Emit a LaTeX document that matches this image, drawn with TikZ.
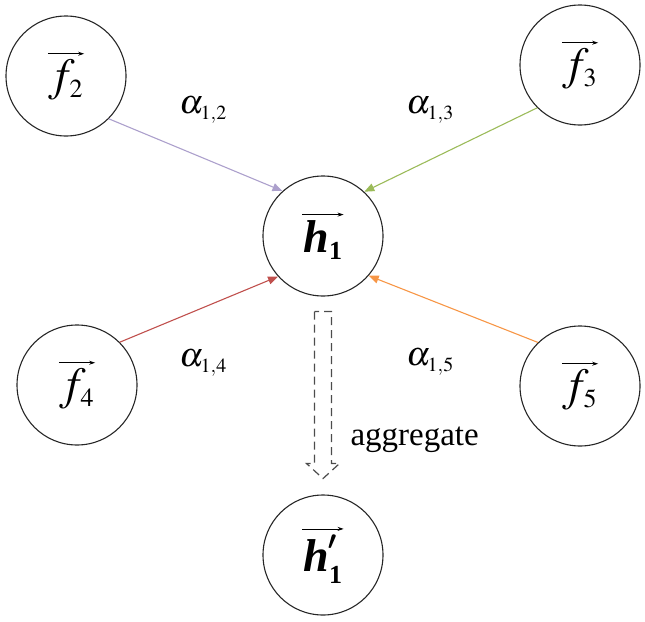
\documentclass[tikz,border=0pt]{standalone}
\usepackage{amsmath}
\usepackage{mathptmx}
\usepackage[no-math]{fontspec}
\setmainfont{Liberation Serif}
\usetikzlibrary{arrows.meta}

\newlength{\du}
\setlength{\du}{1pt}
\DeclareMathSizes{46}{46}{26}{18}
\DeclareMathSizes{34}{34}{20}{14}

\definecolor{edgepurple}{RGB}{172,160,204}
\definecolor{edgegreen}{RGB}{155,187,89}
\definecolor{edgered}{RGB}{192,80,77}
\definecolor{edgeorange}{RGB}{247,150,70}

\tikzset{
  vecnode/.style={circle,draw=black!85,line width=1.1\du,minimum size=120\du,inner sep=0pt,font=\fontsize{46}{50}\selectfont},
  weightlabel/.style={font=\fontsize{34}{38}\selectfont},
  attn/.style={line width=1.1\du,-{Triangle[length=10pt,width=8pt]}},
  vectip/.style={line width=0.8\du,-{Stealth[length=6pt,width=4pt]}},
  aggarrow/.style={draw=black!70,line width=1.2\du,dash pattern=on 8pt off 5pt},
}

% arrow over a whole label
\newlength{\vecw}
\newcommand{\vecover}[1]{%
  \settowidth{\vecw}{$#1$}%
  \shortstack{\tikz\draw[vectip] (0,0) -- (\vecw+2pt,0);\\[1pt]$#1$}}

\begin{document}
\begin{tikzpicture}
\pgftransformyscale{-1}
\useasboundingbox (0\du,0\du) rectangle (645\du,621\du);
% feature vectors
\node[vecnode] (f2) at (66\du,76\du) {\vecover{f_{2}}};
\node[vecnode] (f3) at (580\du,65\du) {\vecover{f_{3}}};
\node[vecnode] (f4) at (77\du,385\du) {\vecover{f_{4}}};
\node[vecnode] (f5) at (580\du,386\du) {\vecover{f_{5}}};
\node[vecnode] (h1) at (323\du,236\du) {\vecover{\textbf{\textit{h}}_{\textbf{1}}}};
\node[vecnode] (h1p) at (323\du,555\du) {\vecover{\textbf{\textit{h}}^{\pmb{\prime}}_{\textbf{1}}}};
% attention edges
\draw[attn,edgepurple] (f2.-45) -- (h1.132);
\draw[attn,edgegreen] (f3.-135) -- (h1.47);
\draw[attn,edgered] (f4.45) -- (h1.-138);
\draw[attn,edgeorange] (f5.134) -- (h1.-41);
% weights
\node[weightlabel] (a12) at (203\du,110\du) {$\alpha_{1,2}$};
\node[weightlabel] (a13) at (430\du,110\du) {$\alpha_{1,3}$};
\node[weightlabel] (a14) at (203\du,363\du) {$\alpha_{1,4}$};
\node[weightlabel] (a15) at (430\du,362\du) {$\alpha_{1,5}$};
% aggregate
\draw[aggarrow] ([xshift=-8.5\du,yshift=15\du]h1.south) -- ++(0,152\du) -- ++(-8\du,0)
  -- ++(16.5\du,15\du) -- ++(16.5\du,-15\du) -- ++(-8\du,0) -- ++(0,-152\du) -- cycle;
\node[anchor=west,font=\fontsize{33}{40}\selectfont] (agg) at (347\du,440\du) {aggregate};
\end{tikzpicture}
\end{document}
